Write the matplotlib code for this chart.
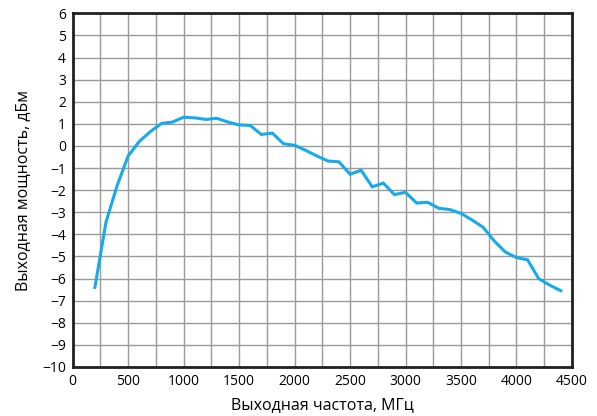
import numpy as np
import matplotlib.pyplot as plt

plt.rcParams['font.family'] = ['Open Sans', 'DejaVu Sans']

# frequency, MHz
freq = [200, 300, 400, 500, 600, 700, 800, 900, 1000, 1100, 1200, 1300, 1400,
        1500, 1600, 1700, 1800, 1900, 2000, 2100, 2200, 2300, 2400, 2500, 2600,
        2700, 2800, 2900, 3000, 3100, 3200, 3300, 3400, 3500, 3600, 3700, 3800,
        3900, 4000, 4100, 4200, 4300, 4400]
# output power, dBm
power = [-6.4, -3.45, -1.8, -0.45, 0.2, 0.65, 1.02, 1.08, 1.3, 1.27, 1.2, 1.25,
         1.08, 0.95, 0.93, 0.52, 0.58, 0.1, 0.03, -0.2, -0.45, -0.68, -0.72,
         -1.28, -1.1, -1.85, -1.68, -2.2, -2.1, -2.58, -2.55, -2.82, -2.88,
         -3.05, -3.35, -3.68, -4.3, -4.8, -5.05, -5.15, -6.0, -6.3, -6.55]

xticks = np.arange(0, 4501, 500)
yticks = np.arange(-10, 7, 1)

fig = plt.figure(figsize=(5.97, 4.16), dpi=100)
ax = fig.add_axes([0.1218, 0.1178, 0.8362, 0.8502])

ax.plot(freq, power, color='#16abe8', lw=2.2, solid_joinstyle='miter', zorder=3)

ax.set_xlim(0, 4500)
ax.set_ylim(-10, 6)
ax.set_xticks(xticks)
ax.set_xticks(np.arange(0, 4501, 250), minor=True)
ax.set_yticks(yticks)
ax.grid(True, which='both', color='#999999', lw=1.0)
ax.tick_params(which='both', length=0, labelsize=10, pad=5)
for s in ax.spines.values():
    s.set_linewidth(2.0)
    s.set_color('#231f20')

ax.set_xlabel('Выходная частота, МГц', fontsize=11.5, labelpad=6)
ax.set_ylabel('Выходная мощность, дБм', fontsize=11.5, labelpad=8)

fig.savefig('out.png', dpi=100)
